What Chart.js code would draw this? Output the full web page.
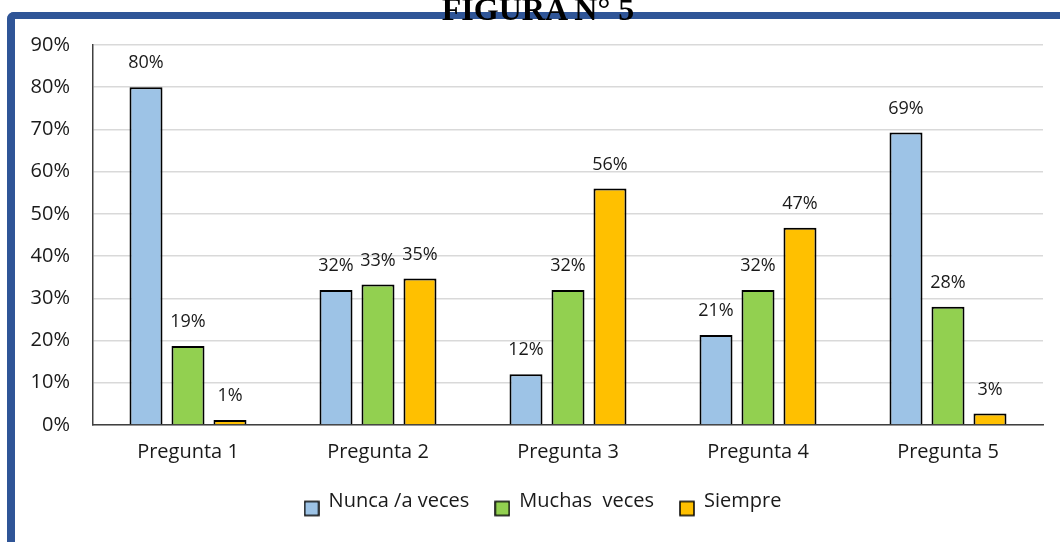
<!DOCTYPE html>
<html>
<head>
<meta charset="utf-8">
<script src="https://cdn.jsdelivr.net/npm/chart.js@4.4.1/dist/chart.umd.min.js"></script>
<style>
  html, body { margin: 0; padding: 0; background: #fff; }
  #wrap { position: relative; width: 1060px; height: 542px; overflow: hidden; }
  #frame {
    position: absolute; left: 7px; top: 12px; width: 1100px; height: 600px;
    border-left: 8px solid #2f5597; border-top: 7px solid #2f5597;
    border-top-left-radius: 7px;
  }
  #title {
    position: absolute; left: 338px; width: 400px; top: -9px; text-align: center;
    font: bold 32px "Liberation Serif", "Times New Roman", serif; color: #000;
    white-space: nowrap;
  }
  canvas { position: absolute; left: 0; top: 0; }
</style>
</head>
<body>
<div id="wrap">
  <div id="frame"></div>
  <canvas id="chart" width="1060" height="542"></canvas>
  <div id="title">FIGURA N° 5</div>
</div>
<script>
// data
const categories = ['Pregunta 1', 'Pregunta 2', 'Pregunta 3', 'Pregunta 4', 'Pregunta 5'];
const nunca = [80, 32, 12, 21.3, 69.3];
const muchas = [18.7, 33.3, 32, 32, 28];
const siempre = [1.2, 34.7, 56, 46.7, 2.7];
const seriesNames = ['Nunca /a veces', 'Muchas  veces', 'Siempre'];
const yTicks = [0, 10, 20, 30, 40, 50, 60, 70, 80, 90];

const colors = ['#9dc3e6', '#92d050', '#ffc000'];
const FONT = '"Open Sans", "Noto Sans", sans-serif';

// legend square sitting a bit below the text centre, like the original
function legendSquare(fill) {
  const c = document.createElement('canvas');
  c.width = 16; c.height = 33;
  const g = c.getContext('2d');
  g.fillStyle = fill;
  g.fillRect(1, 17, 14, 14);
  g.lineWidth = 1.5;
  g.strokeStyle = '#000';
  g.strokeRect(1, 17, 14, 14);
  return c;
}

const valueLabels = {
  id: 'valueLabels',
  afterDatasetsDraw(chart) {
    const ctx = chart.ctx;
    ctx.save();
    ctx.font = '18px ' + FONT;
    ctx.fillStyle = '#1a1a1a';
    ctx.textAlign = 'center';
    ctx.textBaseline = 'middle';
    chart.data.datasets.forEach((ds, i) => {
      chart.getDatasetMeta(i).data.forEach((bar, j) => {
        ctx.fillText(Math.round(ds.data[j]) + '%', bar.x, bar.y - 24);
      });
    });
    ctx.restore();
  }
};

const mk = (label, data, i) => ({
  label, data,
  backgroundColor: colors[i],
  borderColor: '#000',
  borderWidth: 2,
  pointStyle: legendSquare(colors[i]),
  categoryPercentage: 0.663,
  barPercentage: 0.786
});

new Chart(document.getElementById('chart').getContext('2d'), {
  type: 'bar',
  data: {
    labels: categories,
    datasets: [mk(seriesNames[0], nunca, 0), mk(seriesNames[1], muchas, 1), mk(seriesNames[2], siempre, 2)]
  },
  options: {
    responsive: false,
    animation: false,
    layout: { padding: { left: 26, right: 0, top: 45, bottom: 21 } },
    plugins: {
      legend: {
        position: 'bottom',
        labels: {
          usePointStyle: true, pointStyleWidth: 14, boxHeight: 14,
          padding: 26, color: '#1a1a1a', font: { family: FONT, size: 20 }
        }
      },
      tooltip: { enabled: false }
    },
    scales: {
      x: {
        grid: { display: false, drawTicks: false },
        border: { color: '#404040', width: 1.5 },
        ticks: { color: '#1a1a1a', font: { family: FONT, size: 20 }, padding: 15 },
        afterFit: (s) => { s.height = 40; }
      },
      y: {
        min: 0, max: 90,
        afterBuildTicks: (s) => { s.ticks = yTicks.map(v => ({ value: v })); },
        grid: { color: '#d9d9d9', lineWidth: 1.5, drawTicks: false },
        border: { color: '#404040', width: 1.5 },
        ticks: { color: '#1a1a1a', font: { family: FONT, size: 20 }, padding: 23, callback: (v) => v + '%' },
        afterFit: (s) => { s.width = 67; }
      },
      // empty strip on the right so the plot ends where the original does
      right: {
        position: 'right', min: 0, max: 1,
        grid: { display: false }, border: { display: false }, ticks: { display: false },
        afterFit: (s) => { s.width = 17; }
      }
    }
  },
  plugins: [valueLabels]
});
</script>
</body>
</html>
